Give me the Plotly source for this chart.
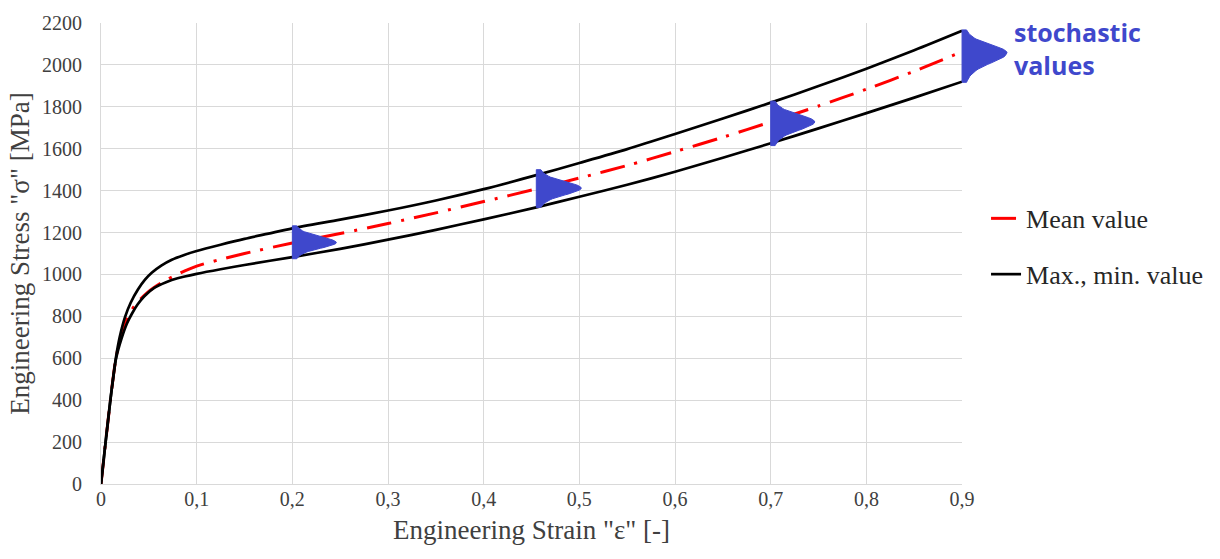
import plotly.graph_objects as go

# ---------------- data ----------------
max_strain = [0, 0.0024, 0.0048, 0.0073, 0.0098, 0.0125, 0.0155, 0.0195, 0.025, 0.031,
              0.0386, 0.046, 0.053, 0.063, 0.074, 0.087, 0.1, 0.125, 0.15, 0.175,
              0.2, 0.25, 0.3, 0.35, 0.4, 0.455, 0.5, 0.55, 0.6, 0.65, 0.7, 0.75,
              0.8, 0.85, 0.9]
max_stress = [0, 100, 200, 300, 400, 500, 600, 700, 795, 865,
              928, 975, 1008, 1042, 1070, 1093, 1112, 1142, 1170, 1195,
              1220, 1262, 1305, 1353, 1407, 1474, 1532, 1598, 1670, 1744, 1820, 1899,
              1982, 2070, 2163]

min_strain = [0, 0.0024, 0.0048, 0.0073, 0.0098, 0.0126, 0.0158, 0.0215, 0.027, 0.032,
              0.038, 0.045, 0.056, 0.068, 0.08, 0.1, 0.125, 0.15, 0.2, 0.25,
              0.3, 0.35, 0.4, 0.455, 0.5, 0.55, 0.6, 0.65, 0.7, 0.75, 0.8, 0.85, 0.9]
min_stress = [0, 100, 200, 300, 400, 500, 600, 695, 765, 810,
              855, 895, 937, 963, 982, 1003, 1025, 1045, 1083, 1122,
              1166, 1213, 1263, 1320, 1371, 1428, 1490, 1557, 1626, 1697, 1770, 1844, 1920]

mean_strain = [0, 0.0024, 0.0048, 0.0073, 0.0098, 0.0125, 0.0156, 0.0205, 0.026, 0.032,
               0.0386, 0.049, 0.064, 0.08, 0.1, 0.125, 0.15, 0.2, 0.25, 0.3,
               0.35, 0.4, 0.455, 0.5, 0.55, 0.6, 0.65, 0.7, 0.75, 0.8, 0.85, 0.9]
mean_stress = [0, 100, 200, 300, 400, 500, 600, 700, 775, 830,
               869, 916, 963, 1001, 1040, 1072, 1100, 1150, 1195, 1243,
               1294, 1348, 1408, 1460, 1520, 1586, 1655, 1728, 1804, 1884, 1970, 2063]

# stochastic distributions (position, bounds, peak)
dist_x = [0.2, 0.455, 0.7, 0.9]
dist_low = [1075, 1320, 1615, 1917]
dist_mean = [1152, 1412, 1728, 2058]
dist_high = [1232, 1500, 1827, 2167]
dist_width = [0.046, 0.047, 0.046, 0.047]
# bell profile: relative distance from the peak -> relative width
prof_t = [0, 0.05, 0.1, 0.15, 0.2, 0.25, 0.3, 0.35, 0.4, 0.45, 0.5,
          0.55, 0.6, 0.65, 0.7, 0.75, 0.8, 0.85, 0.9, 0.95, 1.0]
prof_w = [1.0, 0.99, 0.96, 0.92, 0.86, 0.79, 0.72, 0.64, 0.56, 0.49, 0.42,
          0.36, 0.31, 0.27, 0.23, 0.20, 0.17, 0.15, 0.13, 0.115, 0.10]

x_tickvals = [0, 0.1, 0.2, 0.3, 0.4, 0.5, 0.6, 0.7, 0.8, 0.9]
x_ticktext = ["0", "0,1", "0,2", "0,3", "0,4", "0,5", "0,6", "0,7", "0,8", "0,9"]
y_tickvals = [0, 200, 400, 600, 800, 1000, 1200, 1400, 1600, 1800, 2000, 2200]

# ---------------- layout geometry ----------------
W, H = 1220, 559
ml, mr, mt, mb = 101, 200, 18, 75
main_right_px = 963
plot_w = W - ml - mr
plot_h = H - mt - mb
main_frac = (main_right_px - ml) / plot_w
X_MAX = 0.9
x2_max = X_MAX / main_frac

SERIF = "Liberation Serif"
BLUE = "#3F48CC"
GRID = "#D9D9D9"

fig = go.Figure()

fig.add_trace(go.Scatter(
    x=mean_strain, y=mean_stress, mode="lines", name="Mean value",
    line=dict(color="#FF0000", width=3, dash="25px,10px,3px,10px", shape="spline", smoothing=0.8),
    legendgroup="mean", legendrank=1, xaxis="x", yaxis="y"))

fig.add_trace(go.Scatter(
    x=max_strain, y=max_stress, mode="lines", name="Max., min. value",
    line=dict(color="#000000", width=2.7, shape="spline", smoothing=0.8),
    legendgroup="minmax", legendrank=2, xaxis="x", yaxis="y"))

fig.add_trace(go.Scatter(
    x=min_strain, y=min_stress, mode="lines", name="Max., min. value",
    line=dict(color="#000000", width=2.7, shape="spline", smoothing=0.8),
    legendgroup="minmax", showlegend=False, xaxis="x", yaxis="y"))

# distributions drawn on an overlapping, invisible subplot that extends past 0.9
for x0, lo, mu, hi, w in zip(dist_x, dist_low, dist_mean, dist_high, dist_width):
    xs, ys = [x0], [lo]
    for t, f in zip(reversed(prof_t), reversed(prof_w)):
        xs.append(x0 + w * f)
        ys.append(mu - t * (mu - lo))
    for t, f in zip(prof_t[1:], prof_w[1:]):
        xs.append(x0 + w * f)
        ys.append(mu + t * (hi - mu))
    xs += [x0, x0]
    ys += [hi, lo]
    fig.add_trace(go.Scatter(
        x=xs, y=ys, mode="lines", fill="toself", fillcolor=BLUE,
        line=dict(color=BLUE, width=1),
        showlegend=False, hoverinfo="skip", xaxis="x2", yaxis="y2"))

fig.update_layout(
    width=W, height=H,
    margin=dict(l=ml, r=mr, t=mt, b=mb),
    paper_bgcolor="white", plot_bgcolor="rgba(0,0,0,0)",
    font=dict(family=SERIF, color="#404040"),
    xaxis=dict(
        domain=[0, main_frac], range=[0, X_MAX],
        tickvals=x_tickvals, ticktext=x_ticktext,
        tickfont=dict(family=SERIF, size=20, color="#404040"),
        showgrid=True, gridcolor=GRID, gridwidth=1,
        showline=True, linecolor=GRID, linewidth=1,
        zeroline=False, ticks="", ticklabelstandoff=-3,
        title=dict(text='Engineering Strain "ε" [-]',
                   font=dict(family=SERIF, size=27, color="#404040"), standoff=11),
        anchor="y", fixedrange=True),
    yaxis=dict(
        domain=[0, 1], range=[0, 2200],
        tickvals=y_tickvals,
        tickfont=dict(family=SERIF, size=20, color="#404040"),
        showgrid=True, gridcolor=GRID, gridwidth=1,
        showline=True, linecolor=GRID, linewidth=1,
        zeroline=False, ticks="", ticklabelstandoff=14,
        title=dict(text='Engineering Stress "σ" [MPa]',
                   font=dict(family=SERIF, size=27, color="#404040"), standoff=4),
        anchor="x", fixedrange=True),
    xaxis2=dict(domain=[0, 1], range=[0, x2_max], visible=False, anchor="y2", fixedrange=True),
    yaxis2=dict(domain=[0, 1], range=[0, 2200], visible=False, anchor="x2", fixedrange=True),
    legend=dict(
        x=(987 - ml) / plot_w, y=0.627, xanchor="left", yanchor="top",
        font=dict(family=SERIF, size=26, color="#262626"),
        bgcolor="rgba(0,0,0,0)", tracegroupgap=19, traceorder="grouped",
        itemwidth=30),
    annotations=[dict(
        text="stochastic<br>values", xref="paper", yref="paper",
        x=(1013 - ml) / plot_w, y=1 + 10 / plot_h,
        xanchor="left", yanchor="top", align="left", showarrow=False,
        font=dict(family="Open Sans", size=25, color=BLUE, weight="bold"))],
    showlegend=True,
)

fig.write_html("out.html")
